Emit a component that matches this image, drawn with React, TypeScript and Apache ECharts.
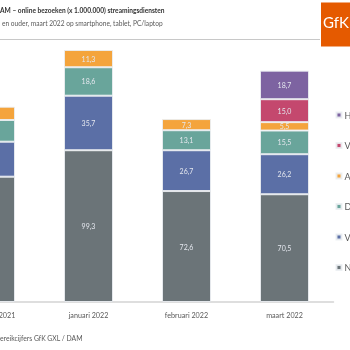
import React, { useEffect, useRef } from "react";
import * as echarts from "echarts";

const categories = ["december 2021", "januari 2022", "februari 2022", "maart 2022"];
const netflix = [82.0, 99.3, 72.6, 70.5];
const videoland = [22.9, 35.7, 26.7, 26.2];
const disney = [14.2, 18.6, 13.1, 15.5];
const amazon = [8.7, 11.3, 7.3, 5.5];
const viaplay = [null, null, null, 15.0];
const hbo = [null, null, null, 18.7];

const seriesDefs = [
  { name: "Netflix", data: netflix, color: "#6B7478" },
  { name: "Videoland", data: videoland, color: "#5B6FA6" },
  { name: "Disney+", data: disney, color: "#69A59B" },
  { name: "Amazon Prime Video", data: amazon, color: "#F4A43C" },
  { name: "Viaplay", data: viaplay, color: "#C4486E" },
  { name: "HBO Max", data: hbo, color: "#7D63A1" },
];

const FONT = "Lato, sans-serif";
const OX = 60; // the chart canvas starts 60px left of the window (left part cropped)

export default function App() {
  const ref = useRef<HTMLDivElement>(null);
  useEffect(() => {
    if (!ref.current) return;
    const chart = echarts.init(ref.current, undefined, { renderer: "svg" });
    chart.setOption({
      animation: false,
      textStyle: { fontFamily: FONT },
      grid: { left: OX - 58.5, right: 16.5, top: 42.2, bottom: 48, containLabel: false },
      xAxis: {
        type: "category",
        data: categories,
        axisTick: { show: false },
        axisLine: { lineStyle: { color: "#d3d3d3", width: 1.5 } },
        axisLabel: { color: "#595959", fontSize: 7.2, margin: 10, fontFamily: FONT },
      },
      yAxis: { type: "value", min: 0, max: 170, show: false },
      legend: {
        orient: "vertical",
        left: OX + 335.5,
        top: 109,
        padding: 0,
        itemWidth: 5,
        itemHeight: 5,
        itemGap: 18.5,
        icon: "rect",
        data: seriesDefs.map((s) => s.name).reverse(),
        textStyle: { fontSize: 9, lineHeight: 12, color: "#595959", fontFamily: FONT, padding: [0, 0, 0, -2] },
      },
      series: seriesDefs.map((s) => ({
        name: s.name,
        type: "bar",
        stack: "total",
        barWidth: 49,
        data: s.data,
        itemStyle: { color: s.color, borderColor: "rgba(235,238,242,0.9)", borderWidth: 1 },
        label: {
          show: true,
          position: "inside",
          color: "#e4e7ee",
          fontSize: 7,
          fontFamily: FONT,
          formatter: (p: any) => (p.value == null ? "" : Number(p.value).toFixed(1).replace(".", ",")),
        },
      })),
      graphic: [
        {
          type: "text",
          left: OX + 0,
          top: 6,
          style: {
            text: "AM – online bezoeken (x 1.000.000) streamingsdiensten",
            fontSize: 6.6,
            fontWeight: "bold",
            fill: "#333333",
            fontFamily: FONT,
          },
        },
        {
          type: "text",
          left: OX + 2,
          top: 19.5,
          style: {
            text: "en ouder, maart 2022 op smartphone, tablet, PC/laptop",
            fontSize: 6.6,
            fill: "#595959",
            fontFamily: FONT,
          },
        },
        {
          type: "line",
          shape: { x1: OX + 0, y1: 39.5, x2: OX + 320, y2: 39.5 },
          style: { stroke: "#c8c8c8", lineWidth: 1 },
        },
        {
          type: "rect",
          shape: { x: OX + 321, y: 2.5, width: 30, height: 44 },
          style: { fill: "#E55A00" },
        },
        {
          type: "text",
          x: OX + 323,
          y: 14,
          style: { text: "GfK", fontSize: 15, fill: "#ffffff", fontFamily: FONT },
        },
        {
          type: "text",
          left: OX + 0,
          top: 334,
          style: { text: "ereikcijfers GfK GXL / DAM", fontSize: 6.8, fill: "#595959", fontFamily: FONT },
        },
      ],
    });
    return () => chart.dispose();
  }, []);
  return <div ref={ref} style={{ position: "fixed", left: -OX, top: 0, width: 350 + OX, height: 350 }} />;
}
